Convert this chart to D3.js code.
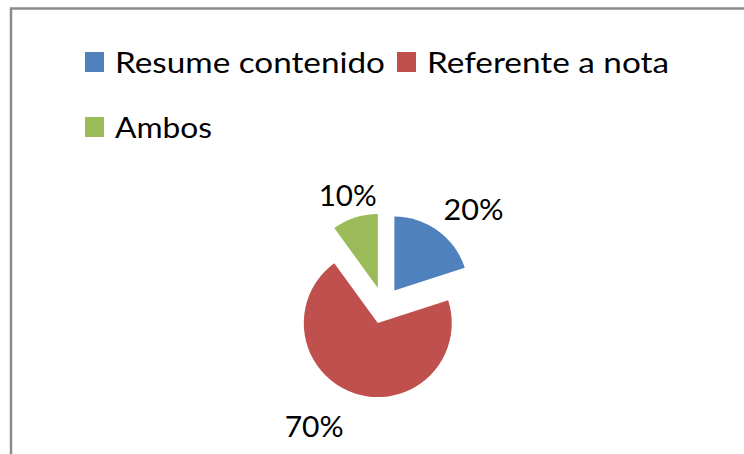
<!DOCTYPE html>
<html><head><meta charset="utf-8">
<script src="https://cdn.jsdelivr.net/npm/d3@7/dist/d3.min.js"></script>
<style>html,body{margin:0;padding:0;background:#fff;overflow:hidden}</style>
</head><body>
<svg id="c" width="744" height="454"></svg>
<script>
const categories = ["Resume contenido", "Referente a nota", "Ambos"];
const values = [20, 70, 10];
const labels = ["20%", "70%", "10%"];
const colors = ["#4F81BD", "#C0504D", "#9BBB59"];

const W = 744, H = 454;
const svg = d3.select("#c");
const font = "Lato, 'Open Sans', sans-serif";

// frame
svg.append("rect").attr("x", 11).attr("y", 8.5).attr("width", 760).attr("height", 470)
  .attr("fill", "#fff").attr("stroke", "#8c8c8c").attr("stroke-width", 2.5);

// legend
const legendPos = [{x:85, y:73, w:270}, {x:397, y:73, w:242}, {x:85, y:138, w:97}];
const lg = svg.append("g");
categories.forEach((c, i) => {
  const p = legendPos[i];
  lg.append("rect").attr("x", p.x).attr("y", p.y - 21).attr("width", 19).attr("height", 20).attr("fill", colors[i]);
  lg.append("text").attr("x", p.x + 30).attr("y", p.y).attr("font-family", font).attr("font-size", 29)
    .attr("fill", "#000").attr("textLength", p.w).attr("lengthAdjust", "spacingAndGlyphs").text(c);
});

// pie
const cx = 383.5, cy = 305.5, r = 74, explode = 18.5;
const pie = d3.pie().sort(null).value(d => d).startAngle(0).endAngle(2 * Math.PI);
const arcs = pie(values);
const arc = d3.arc().innerRadius(0).outerRadius(r);
const g = svg.append("g").attr("transform", `translate(${cx},${cy})`);
g.selectAll("path").data(arcs).join("path")
  .attr("d", arc)
  .attr("fill", (d, i) => colors[i])
  .attr("transform", d => {
    const a = (d.startAngle + d.endAngle) / 2;
    return `translate(${explode * Math.sin(a)},${-explode * Math.cos(a)})`;
  });

// data labels (outside end)
const labelLayout = [{R:131, dx:13, dy:10, w:60}, {R:137, dx:-27, dy:-9, w:59}, {R:116, dx:0, dy:0, w:58}];
arcs.forEach((d, i) => {
  const a = (d.startAngle + d.endAngle) / 2;
  const L = labelLayout[i];
  const x = L.R * Math.sin(a) + L.dx;
  const y = -L.R * Math.cos(a) + L.dy;
  g.append("text").attr("x", x).attr("y", y + 10.5).attr("text-anchor", "middle")
    .attr("font-family", font).attr("font-size", 29).attr("fill", "#000")
    .attr("textLength", L.w).attr("lengthAdjust", "spacingAndGlyphs").text(labels[i]);
});
</script>
</body></html>
